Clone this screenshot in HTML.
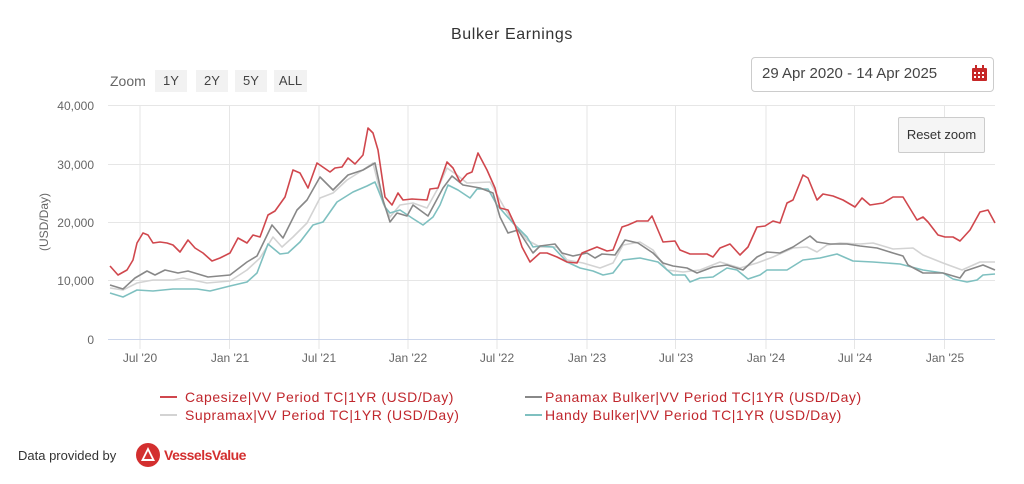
<!DOCTYPE html>
<html><head><meta charset="utf-8"><style>
body{margin:0;width:1024px;height:484px;background:#fff;font-family:"Liberation Sans",sans-serif;overflow:hidden;position:relative}
.a{position:absolute;white-space:nowrap}
.btn{position:absolute;top:70px;height:22px;background:#f2f2f2;color:#444;font-size:13px;line-height:22px;text-align:center}
</style></head><body>
<div class="a" style="left:0;width:1024px;text-align:center;top:26px;font-size:16px;letter-spacing:0.6px;color:#333">Bulker Earnings</div>
<div class="a" style="left:110px;top:73px;font-size:14px;color:#666">Zoom</div>
<div class="btn" style="left:155px;width:32px">1Y</div>
<div class="btn" style="left:196px;width:32px">2Y</div>
<div class="btn" style="left:235px;width:32px">5Y</div>
<div class="btn" style="left:274px;width:33px">ALL</div>
<div class="a" style="left:751px;top:57px;width:241px;height:33px;border:1px solid #ccc;border-radius:4px"></div>
<div class="a" style="left:762px;top:65px;font-size:15px;color:#444">29 Apr 2020 - 14 Apr 2025</div>
<svg class="a" style="left:971px;top:65px" width="18" height="18"><rect x="1" y="3" width="15" height="13" fill="#c62828" rx="1"/><rect x="4" y="0" width="2" height="5" fill="#c62828"/><rect x="11" y="0" width="2" height="5" fill="#c62828"/><g fill="#fff"><rect x="3" y="7" width="2" height="2"/><rect x="7" y="7" width="2" height="2"/><rect x="11" y="7" width="2" height="2"/><rect x="3" y="11" width="2" height="2"/><rect x="7" y="11" width="2" height="2"/><rect x="11" y="11" width="2" height="2"/></g></svg>
<svg class="a" style="left:0;top:0" width="1024" height="484" font-family="Liberation Sans, sans-serif">
<g stroke="#e6e6e6" stroke-width="1">
<line x1="108" x2="995" y1="105.5" y2="105.5"/><line x1="108" x2="995" y1="164.5" y2="164.5"/><line x1="108" x2="995" y1="222.5" y2="222.5"/><line x1="108" x2="995" y1="280.5" y2="280.5"/>
<line x1="140" x2="140" y1="105" y2="349"/><line x1="229.5" x2="229.5" y1="105" y2="349"/><line x1="319" x2="319" y1="105" y2="349"/><line x1="408" x2="408" y1="105" y2="349"/><line x1="497" x2="497" y1="105" y2="349"/><line x1="587" x2="587" y1="105" y2="349"/><line x1="675.5" x2="675.5" y1="105" y2="349"/><line x1="766" x2="766" y1="105" y2="349"/><line x1="854.5" x2="854.5" y1="105" y2="349"/><line x1="944.5" x2="944.5" y1="105" y2="349"/>
</g>
<line x1="108" x2="995" y1="339.5" y2="339.5" stroke="#ccd6eb"/>
<g font-size="12" fill="#666" text-anchor="end">
<text x="94" y="110">40,000</text><text x="94" y="169">30,000</text><text x="94" y="227">20,000</text><text x="94" y="285">10,000</text><text x="94" y="344">0</text></g>
<text transform="translate(48,222) rotate(-90)" font-size="12" fill="#666" text-anchor="middle">(USD/Day)</text>
<g font-size="12" fill="#666" text-anchor="middle">
<text x="140" y="362">Jul '20</text><text x="230" y="362">Jan '21</text><text x="319" y="362">Jul '21</text><text x="408" y="362">Jan '22</text><text x="497" y="362">Jul '22</text><text x="587" y="362">Jan '23</text><text x="676" y="362">Jul '23</text><text x="766" y="362">Jan '24</text><text x="855" y="362">Jul '24</text><text x="945" y="362">Jan '25</text></g>
<g fill="none" stroke-width="1.6" stroke-linejoin="round">
<polyline stroke="#d3d3d3" points="110,288 123,290 137,283 153,280 173,280 183,278 207,283 230,281 247,270 260,258 273,237 282,247 293,237 307,223 320,198 333,193 347,180 363,170 373,163 383,203 390,217 400,205 413,203 427,208 437,190 447,168 457,175 467,183 490,182 500,200 513,223 527,240 540,247 557,247 567,260 583,263 600,268 613,263 623,245 640,242 653,250 667,270 683,272 700,270 720,262 740,268 757,263 773,257 793,248 807,247 817,252 827,245 840,243 860,244 873,243 893,249 913,248 923,255 943,263 962,270 980,262 995,262"/>
<polyline stroke="#7fc0c0" points="110,293 123,297 137,290 153,291 173,289 197,289 210,291 230,286 247,282 257,273 268,244 280,254 288,253 300,242 313,225 323,222 337,202 353,192 367,186 375,182 385,207 390,213 400,210 412,218 423,225 433,217 440,205 448,185 458,190 470,198 477,189 488,189 497,205 513,223 527,237 533,247 540,246 553,247 567,262 580,268 593,271 603,275 613,273 623,260 640,258 658,262 673,275 685,275 690,282 700,278 713,277 727,268 737,270 748,279 760,275 767,270 787,270 803,260 820,258 837,254 853,261 873,262 900,264 923,270 943,273 953,279 967,282 977,280 983,275 995,274"/>
<polyline stroke="#888" points="110,285 123,289 135,278 147,271 155,275 165,270 178,273 188,271 208,277 230,275 247,262 257,256 272,225 283,238 297,210 307,200 320,177 333,190 348,175 363,170 375,163 383,200 390,222 397,213 407,216 413,205 428,216 443,188 452,176 463,185 480,188 493,193 500,217 508,233 518,230 533,253 540,246 555,244 562,253 573,256 587,253 595,258 602,254 615,255 625,240 638,243 653,253 663,263 673,266 687,268 697,273 713,267 727,265 743,270 757,257 767,252 780,253 793,247 810,236 817,242 830,244 847,244 860,246 877,248 893,253 903,256 908,265 923,273 943,273 960,278 965,271 983,265 995,270"/>
<polyline stroke="#d0474d" points="110,266 118,275 127,270 133,260 137,243 143,233 148,235 153,243 160,242 167,243 173,245 180,252 188,240 195,248 203,253 212,261 220,258 230,253 238,238 247,243 253,235 260,237 268,215 275,211 285,197 293,170 300,173 308,188 317,163 330,172 335,168 342,167 348,158 355,164 363,155 368,128 373,133 378,150 382,177 385,197 392,205 398,193 403,200 412,199 427,200 430,189 438,188 447,162 453,168 460,182 467,174 472,172 478,153 487,170 495,188 500,208 508,210 515,225 522,247 530,262 540,253 547,253 557,257 567,262 577,263 582,253 597,247 607,251 613,250 622,227 628,225 637,221 648,221 652,216 663,242 675,241 680,250 690,254 707,254 713,257 720,248 730,244 740,255 748,247 757,227 765,226 773,221 780,223 787,203 793,200 803,175 808,178 817,200 823,194 833,196 843,200 855,207 862,198 870,205 883,203 893,197 903,197 917,220 923,217 928,222 938,235 945,237 953,237 960,241 970,230 980,212 988,210 995,223"/>
</g>
<g stroke-width="2"><line x1="160" x2="177" y1="397" y2="397" stroke="#d0474d"/><line x1="160" x2="177" y1="415" y2="415" stroke="#d3d3d3"/><line x1="525" x2="542" y1="397" y2="397" stroke="#888"/><line x1="525" x2="542" y1="415" y2="415" stroke="#7fc0c0"/></g>
<g font-size="14" fill="#c0272d" letter-spacing="0.55">
<text x="185" y="402">Capesize|VV Period TC|1YR (USD/Day)</text>
<text x="185" y="420">Supramax|VV Period TC|1YR (USD/Day)</text>
<text x="545" y="402">Panamax Bulker|VV Period TC|1YR (USD/Day)</text>
<text x="545" y="420">Handy Bulker|VV Period TC|1YR (USD/Day)</text></g>
<text x="18" y="460" font-size="13" fill="#333">Data provided by</text>
<circle cx="148" cy="455" r="12" fill="#d32f2f"/><path d="M141 461 L148 447 L155 461 Z" fill="#fff"/><path d="M144 459 L148 451 L152 459 Z" fill="#d32f2f"/>
<text x="164" y="460" font-size="14" font-weight="bold" fill="#d32f2f" letter-spacing="-0.5">VesselsValue</text>
</svg>
<div class="a" style="left:898px;top:117px;width:85px;height:34px;background:#f5f5f5;border:1px solid #ccc;border-radius:2px;font-size:13px;line-height:34px;text-align:center;color:#333">Reset zoom</div>
</body></html>
